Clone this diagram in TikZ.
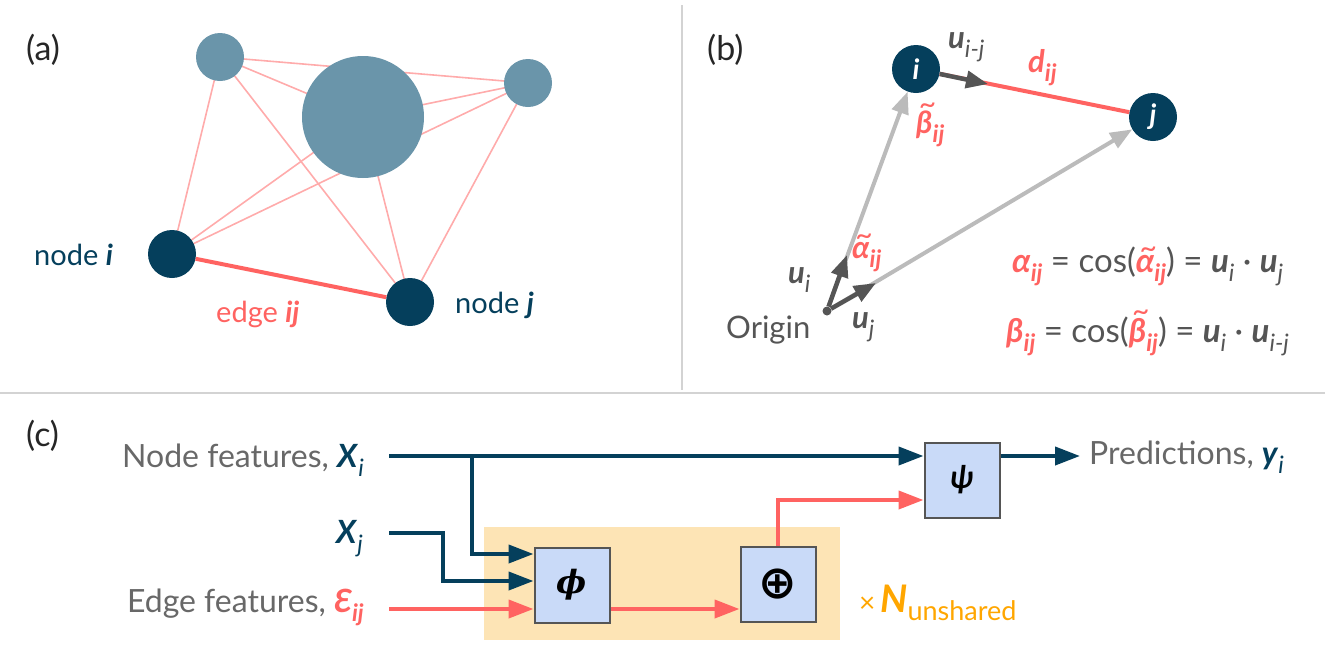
\documentclass[tikz,border=0pt]{standalone}
\usepackage{fontspec}
\setmainfont{Lato}
\newfontfamily\symfont{DejaVu Sans}
\newfontfamily\greekserif{DejaVu Serif}
\usetikzlibrary{arrows.meta,positioning,calc,backgrounds}

\definecolor{navy}{HTML}{053F5C}
\definecolor{steel}{HTML}{6A95AA}
\definecolor{coral}{HTML}{FF6361}
\definecolor{blush}{HTML}{FFABAB}
\definecolor{ink}{HTML}{555555}
\definecolor{fog}{HTML}{BBBBBB}
\definecolor{txtgrey}{HTML}{686868}
\definecolor{boxblue}{HTML}{C9DAF8}
\definecolor{peach}{HTML}{FDE4B5}
\definecolor{amber}{HTML}{FFA600}
\definecolor{rulegrey}{HTML}{D3D3D3}

\newcommand\bi[1]{\textbf{\textit{#1}}}
\newcommand\lo[1]{\raisebox{-0.3em}{\fontsize{24}{24}\selectfont #1}}
\newcommand\wavy[1]{\leavevmode\setbox0\hbox{#1}\rlap{\raisebox{\dimexpr\ht0-4pt\relax}{\makebox[\wd0]{\hspace{0.2em}\fontsize{30}{30}\selectfont\textasciitilde}}}\box0}

\tikzset{
  smallnode/.style={circle, fill=steel, minimum size=48pt, inner sep=0pt},
  bignode/.style={circle, fill=steel, minimum size=122pt, inner sep=0pt},
  keynode/.style={circle, fill=navy, minimum size=48pt, inner sep=0pt, text=white,
    font=\fontsize{28}{28}\selectfont\bfseries\itshape},
  softedge/.style={blush, line width=1.6pt},
  keyedge/.style={coral, line width=4pt},
  lbl/.style={inner sep=0pt, anchor=base west},
  rlbl/.style={inner sep=0pt, anchor=base east},
  big text/.style={font=\fontsize{31}{36}\selectfont},
  eq text/.style={font=\fontsize{33}{38}\selectfont},
  panel/.style={inner sep=0pt, anchor=base west, font=\fontsize{34}{34}\selectfont, text=black!85},
  fog arrow/.style={fog, line width=4pt, -{Triangle[length=22pt,width=17pt]}},
  ink arrow/.style={ink, line width=4.5pt, -{Triangle[length=22pt,width=17pt]}},
  navy arrow/.style={navy, line width=4pt, -{Triangle[length=25pt,width=18pt]}},
  coral arrow/.style={coral, line width=4pt, -{Triangle[length=25pt,width=18pt]}},
  opbox/.style={draw=ink, line width=2pt, fill=boxblue, minimum size=75pt, inner sep=0pt,
    font=\fontsize{32}{32}\selectfont},
}

\begin{document}
\begin{tikzpicture}[x=1pt, y=-1pt, font=\fontsize{29}{34}\selectfont]
\useasboundingbox (0,0) rectangle (1325,646);

% panel dividers
\draw[rulegrey, line width=2pt] (682,5) -- (682,390);
\draw[rulegrey, line width=2pt] (0,393) -- (1325,393);

% (a) graph
\node[panel] (pa) at (26,60) {(a)};
\node[smallnode] (tl) at (220,57) {};
\node[bignode] (big) at (363,117) {};
\node[smallnode] (tr) at (528,83) {};
\node[keynode] (ni) at (172,254) {};
\node[keynode] (nj) at (410,302) {};
\begin{scope}[on background layer]
  \foreach \a/\b in {tl/tr,tl/big,tl/ni,tl/nj,big/tr,big/ni,big/nj,tr/ni,tr/nj}
    \draw[softedge] (\a.center) -- (\b.center);
\end{scope}
\draw[keyedge] (ni) -- (nj);
\node[lbl, text=navy] (labi) at (34,265) {node \bi{i}};
\node[lbl, text=navy] (labj) at (455,313) {node \bi{j}};
\node[lbl, text=coral] (labij) at (216,322) {edge \bi{ij}};

% (b) geometry
\node[panel] (pb) at (707,60) {(b)};
\node[keynode] (bi) at (916,69) {i};
\node[keynode] (bj) at (1153,117) {j};
\node[circle, fill=ink, minimum size=9pt, inner sep=0pt] (origin) at (827,311) {};
\coordinate (ui) at (847,255);
\coordinate (uj) at (876,283);
\coordinate (uij) at (988,84);
\draw[fog arrow] (origin) -- (bi);
\draw[fog arrow] (origin) -- (bj);
\draw[ink arrow] (origin) -- (ui);
\draw[ink arrow] (origin) -- (uj);
\draw[keyedge] (bi) -- (bj);
\draw[ink arrow] (bi) -- (uij);
\node[lbl, text=ink, big text] (luij) at (948,48) {\bi{u}\lo{\textit{i-j}}};
\node[lbl, text=coral, big text] (ldij) at (1028,72) {\bi{d}\lo{\bi{ij}}};
\node[lbl, text=coral, big text] (lbeta) at (916,133) {\wavy{\bi{β}}\lo{\bi{ij}}};
\node[lbl, text=coral, big text] (lalpha) at (852,258) {\wavy{\bi{α}}\lo{\bi{ij}}};
\node[lbl, text=ink, big text] (lui) at (788,283) {\bi{u}\lo{\textit{i}}};
\node[lbl, text=ink, big text] (luj) at (852,328) {\bi{u}\lo{\textit{j}}};
\node[lbl, text=ink, big text] (lorigin) at (726,338) {Origin};
\node[lbl, text=ink, eq text] (eqa) at (1012,272) {\textcolor{coral}{\bi{α}\lo{\bi{ij}}} = cos(\textcolor{coral}{\wavy{\bi{α}}\lo{\bi{ij}}}) = \bi{u}\lo{\textit{i}} · \bi{u}\lo{\textit{j}}};
\node[lbl, text=ink, eq text] (eqb) at (1006,342) {\textcolor{coral}{\bi{β}\lo{\bi{ij}}} = cos(\textcolor{coral}{\wavy{\bi{β}}\lo{\bi{ij}}}) = \bi{u}\lo{\textit{i}} · \bi{u}\lo{\textit{i-j}}};

% (c) message passing
\node[panel] (pc) at (26,446) {(c)};
\fill[peach] (484,527) rectangle (840,640);
\node[opbox] (phi) at (572,585) {{\greekserif\bfseries\itshape ϕ}};
\node[opbox] (oplus) at (778,584) {{\symfont\fontsize{46}{46}\selectfont\bfseries ⊕}};
\node[opbox] (psi) at (962,480) {\bi{ψ}};
\node[rlbl, text=txtgrey, font=\fontsize{32}{36}\selectfont] (nfeat) at (364,467) {Node features, \textcolor{navy}{\bi{X}\lo{\textit{i}}}};
\node[rlbl, text=navy, font=\fontsize{32}{36}\selectfont] (xj) at (363,543) {\bi{X}\lo{\textit{j}}};
\node[rlbl, text=txtgrey, font=\fontsize{32}{36}\selectfont] (efeat) at (364,612) {Edge features, \textcolor{coral}{\bi{Ɛ}\lo{\bi{ij}}}};
\node[lbl, text=txtgrey, font=\fontsize{32}{36}\selectfont] (pred) at (1089,464) {Predictions, \textcolor{navy}{\bi{y}\lo{\textit{i}}}};
\node[lbl, text=amber] (reps) at (859,612) {{\fontsize{28}{28}\selectfont ×}\,{\fontsize{38}{38}\selectfont\bi{N}}\raisebox{-0.3em}{\fontsize{27}{27}\selectfont unshared}};
\coordinate (xin) at (389,456);
\coordinate (split) at (472,456);
\coordinate (xjin) at (389,533);
\coordinate (ein) at (389,609);
\coordinate (yout) at (1080,456);
\draw[navy arrow] (xin) -- (xin -| psi.west);
\draw[navy arrow] (split) |- ($(phi.west)+(0,-31)$);
\draw[navy arrow] (xjin) -- ++(54,0) |- ($(phi.west)+(0,-4)$);
\draw[coral arrow] (ein) -- (ein -| phi.west);
\draw[coral arrow] (ein -| phi.east) -- (ein -| oplus.west);
\draw[coral arrow] (oplus.north) |- ($(psi.west)+(0,20)$);
\draw[navy arrow] (xin -| psi.east) -- (yout);
\end{tikzpicture}
\end{document}
